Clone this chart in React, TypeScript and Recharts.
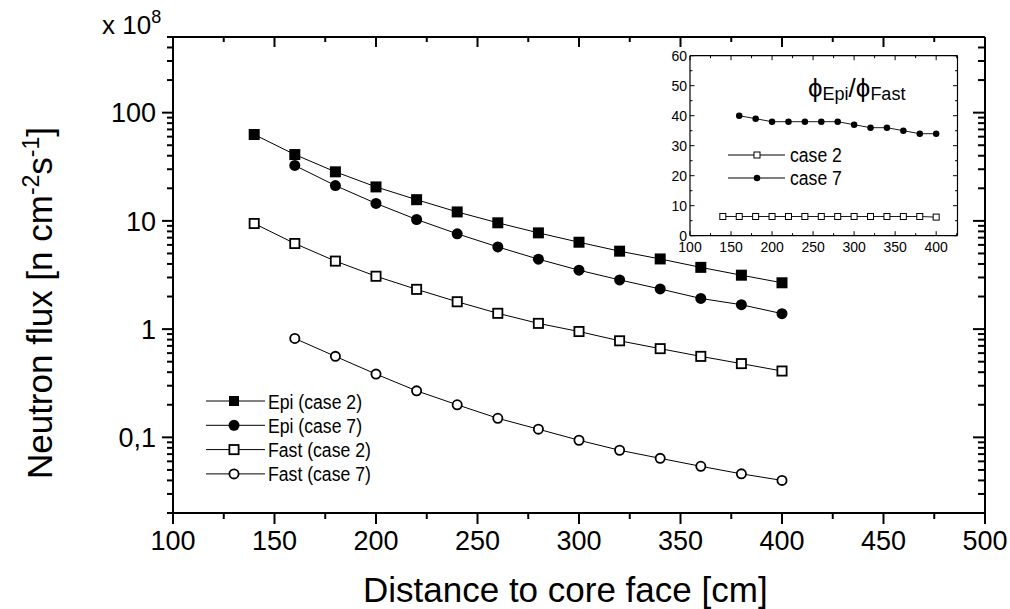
import React from 'react';
import { LineChart, Line, XAxis, YAxis, Legend } from 'recharts';

const FONT = '"Liberation Sans", Arial, Helvetica, sans-serif';

// distance to core face [cm]
const distance = [140, 160, 180, 200, 220, 240, 260, 280, 300, 320, 340, 360, 380, 400];

// neutron flux, x 10^8 n cm-2 s-1
const epiCase2 = [62.8, 41.0, 28.4, 20.6, 15.7, 12.1, 9.6, 7.75, 6.35, 5.25, 4.45, 3.72, 3.15, 2.68];
const epiCase7 = [null, 32.5, 21.2, 14.5, 10.3, 7.6, 5.75, 4.43, 3.5, 2.85, 2.35, 1.92, 1.68, 1.39];
const fastCase2 = [9.46, 6.18, 4.25, 3.08, 2.33, 1.79, 1.4, 1.13, 0.95, 0.78, 0.66, 0.56, 0.48, 0.41];
const fastCase7 = [null, 0.82, 0.56, 0.384, 0.269, 0.2, 0.15, 0.119, 0.094, 0.076, 0.064, 0.054, 0.046, 0.04];

// inset: epi / fast ratio
const ratioCase2 = [6.4, 6.4, 6.4, 6.4, 6.4, 6.4, 6.4, 6.4, 6.4, 6.4, 6.4, 6.4, 6.4, 6.2];
const ratioCase7 = [null, 40, 39, 38, 38, 38, 38, 38, 37, 36, 36, 35, 34, 34];

const xTicks = [100, 125, 150, 175, 200, 225, 250, 275, 300, 325, 350, 375, 400, 425, 450, 475, 500];
const fluxTicks = [
  0.02, 0.03, 0.04, 0.05, 0.06, 0.07, 0.08, 0.09,
  0.1, 0.2, 0.3, 0.4, 0.5, 0.6, 0.7, 0.8, 0.9,
  1, 2, 3, 4, 5, 6, 7, 8, 9,
  10, 20, 30, 40, 50, 60, 70, 80, 90,
  100, 200, 300, 400, 500,
];
const fluxTickLabels: [number, string][] = [[0.1, '0,1'], [1, '1'], [10, '10'], [100, '100']];

const insetXTicks = [100, 125, 150, 175, 200, 225, 250, 275, 300, 325, 350, 375, 400, 425];
const insetYTicks = [0, 5, 10, 15, 20, 25, 30, 35, 40, 45, 50, 55, 60];

const mainSeries = [
  { key: 'epi2', name: 'Epi (case 2)', shape: 'square', filled: true },
  { key: 'epi7', name: 'Epi (case 7)', shape: 'circle', filled: true },
  { key: 'fast2', name: 'Fast (case 2)', shape: 'square', filled: false },
  { key: 'fast7', name: 'Fast (case 7)', shape: 'circle', filled: false },
];
const insetSeries = [
  { key: 'r2', name: 'case 2', shape: 'square', filled: false },
  { key: 'r7', name: 'case 7', shape: 'circle', filled: true },
];

const rows = distance.map((d, i) => ({
  d,
  epi2: epiCase2[i],
  epi7: epiCase7[i],
  fast2: fastCase2[i],
  fast7: fastCase7[i],
}));
const insetRows = distance.map((d, i) => ({ d, r2: ratioCase2[i], r7: ratioCase7[i] }));

const Marker = ({ cx, cy, shape, filled, size, sw }: any) => {
  if (shape === 'square') {
    const s = filled ? size : size - sw;
    return (
      <rect x={cx - s / 2} y={cy - s / 2} width={s} height={s}
        fill={filled ? '#000' : '#fff'} stroke={filled ? 'none' : '#000'} strokeWidth={sw} />
    );
  }
  const r = filled ? size / 2 : (size - sw) / 2;
  return <circle cx={cx} cy={cy} r={r} fill={filled ? '#000' : '#fff'} stroke={filled ? 'none' : '#000'} strokeWidth={sw} />;
};

const dotFor = (s: any, size: number, sw: number) => (p: any) => {
  if (p.value == null || p.cy == null || isNaN(p.cy)) return <g key={p.index} />;
  return <g key={p.index}><Marker cx={p.cx} cy={p.cy} shape={s.shape} filled={s.filled} size={size} sw={sw} /></g>;
};

const fluxLabel = (v: number) => {
  const hit = fluxTickLabels.find(([t]) => Math.abs(t - v) / t < 1e-6);
  return hit ? hit[1] : null;
};

const seg = (x1: number, y1: number, x2: number, y2: number, w: number) => (
  <path d={`M${x1},${y1}L${x2},${y2}`} stroke="#000" strokeWidth={w} fill="none" />
);

// tickSize 0 / tickMargin 0: x, y handed to the tick are on the axis line
const BottomTick = ({ x, y, payload }: any) => {
  const ax = Number(x), ay = Number(y);
  const major = payload.value % 50 === 0;
  return (
    <g>
      {seg(ax, ay, ax, ay + (major ? 11 : 6), 2)}
      {major && (
        <text x={ax} y={ay + 37} textAnchor="middle" fontSize={27} fontFamily={FONT} fill="#000">{payload.value}</text>
      )}
    </g>
  );
};
const TopTick = ({ x, y, payload }: any) => {
  const ax = Number(x), ay = Number(y);
  const major = payload.value % 50 === 0;
  return <g>{seg(ax, ay, ax, ay + (major ? 10 : 5), 2)}</g>;
};
const LeftTick = ({ x, y, payload }: any) => {
  const ax = Number(x), ay = Number(y);
  const label = fluxLabel(payload.value);
  return (
    <g>
      {seg(ax - (label ? 11 : 6), ay, ax, ay, 2)}
      {label && (
        <text x={ax - 17} y={ay} dy="0.36em" textAnchor="end" fontSize={27} fontFamily={FONT} fill="#000">{label}</text>
      )}
    </g>
  );
};
const RightTick = ({ x, y, payload }: any) => {
  const ax = Number(x), ay = Number(y);
  const label = fluxLabel(payload.value);
  return <g>{seg(ax - (label ? 12 : 7), ay, ax, ay, 2)}</g>;
};

// inset ticks, all pointing inward
const InsetBottomTick = ({ x, y, payload }: any) => {
  const ax = Number(x), ay = Number(y);
  const major = payload.value % 50 === 0;
  return (
    <g>
      {seg(ax, ay, ax, ay - (major ? 4.5 : 2.5), 1)}
      {major && (
        <text x={ax} y={ay + 16} textAnchor="middle" fontSize={14} fontFamily={FONT} fill="#000">{payload.value}</text>
      )}
    </g>
  );
};
const InsetTopTick = ({ x, y, payload }: any) => {
  const ax = Number(x), ay = Number(y);
  const major = payload.value % 50 === 0;
  return <g>{seg(ax, ay, ax, ay + (major ? 4.5 : 2.5), 1)}</g>;
};
const InsetLeftTick = ({ x, y, payload }: any) => {
  const ax = Number(x), ay = Number(y);
  const major = payload.value % 10 === 0;
  return (
    <g>
      {seg(ax, ay, ax + (major ? 4.5 : 2.5), ay, 1)}
      {major && (
        <text x={ax - 3} y={ay} dy="0.36em" textAnchor="end" fontSize={14} fontFamily={FONT} fill="#000">{payload.value}</text>
      )}
    </g>
  );
};
const InsetRightTick = ({ x, y, payload }: any) => {
  const ax = Number(x), ay = Number(y);
  const major = payload.value % 10 === 0;
  return <g>{seg(ax - (major ? 4.5 : 2.5), ay, ax, ay, 1)}</g>;
};

// titles
const XTitle = () => (
  <text x={363} y={602} fontSize={35} fontFamily={FONT} fill="#000">Distance to core face [cm]</text>
);
const YTitle = () => (
  <g>
    <text transform="rotate(-90 52 303)" x={52} y={303} textAnchor="middle" fontSize={35} fontFamily={FONT} fill="#000">
      Neutron flux [n cm<tspan dy={-13} fontSize={23}>-2</tspan>
      <tspan dy={13}>s</tspan>
      <tspan dy={-13} fontSize={23}>-1</tspan>
      <tspan dy={13}>]</tspan>
    </text>
    <text x={102} y={34} fontSize={26} fontFamily={FONT} fill="#000">
      x 10<tspan dy={-11} fontSize={18}>8</tspan>
    </text>
  </g>
);
const InsetTitle = () => (
  <text x={168} y={57} fontFamily={FONT} fill="#000">
    <tspan fontSize={26}>ϕ</tspan>
    <tspan fontSize={18} dy={3}>Epi</tspan>
    <tspan fontSize={26} dy={-3}>/</tspan>
    <tspan fontSize={26}>ϕ</tspan>
    <tspan fontSize={18} dy={3}>Fast</tspan>
  </text>
);

const MainLegend = (props: any) => {
  const items = props.payload ?? [];
  return (
    <svg width={220} height={110} style={{ display: 'block' }}>
      {items.map((it: any, i: number) => {
        const s = mainSeries.find((m) => m.key === it.dataKey) ?? mainSeries[i];
        const cy = 15 + i * 24.3;
        return (
          <g key={s.key}>
            <line x1={10} x2={69} y1={cy} y2={cy} stroke="#000" strokeWidth={1} />
            <Marker cx={38} cy={cy} shape={s.shape} filled={s.filled} size={s.shape === 'square' && s.filled ? 10 : 11} sw={1.8} />
            <g transform={`translate(72 ${cy + 7.5}) scale(0.84 1)`}>
              <text x={0} y={0} fontSize={21} fontFamily={FONT} fill="#000">{it.value}</text>
            </g>
          </g>
        );
      })}
    </svg>
  );
};

const InsetLegend = (props: any) => {
  const items = props.payload ?? [];
  return (
    <svg width={140} height={55} style={{ display: 'block' }}>
      {items.map((it: any, i: number) => {
        const s = insetSeries.find((m) => m.key === it.dataKey) ?? insetSeries[i];
        const cy = 15 + i * 23;
        return (
          <g key={s.key}>
            <line x1={8} x2={65} y1={cy} y2={cy} stroke="#000" strokeWidth={1} />
            <Marker cx={37} cy={cy} shape={s.shape} filled={s.filled} size={s.filled ? 6.5 : 7} sw={1} />
            <g transform={`translate(70 ${cy + 7}) scale(0.84 1)`}>
              <text x={0} y={0} fontSize={21} fontFamily={FONT} fill="#000">{it.value}</text>
            </g>
          </g>
        );
      })}
    </svg>
  );
};

const axisCommon = { interval: 0 as const, allowDataOverflow: true, tickSize: 0, tickMargin: 0, tickLine: false };

export default function App() {
  return (
    <div style={{ position: 'absolute', left: 0, top: 0, width: 1010, height: 609, background: '#fff' }}>
      <div style={{ position: 'absolute', left: 0, top: 0 }}>
        <LineChart width={1010} height={609} data={rows} margin={{ top: 36, right: 24, bottom: 0, left: 0 }}>
          <XAxis dataKey="d" type="number" domain={[100, 500]} ticks={xTicks} {...axisCommon} height={96}
            axisLine={{ stroke: '#000', strokeWidth: 2 }} tick={(p: any) => <BottomTick {...p} />}
            label={<XTitle />} />
          <XAxis xAxisId="top" orientation="top" dataKey="d" type="number" domain={[100, 500]} ticks={xTicks}
            {...axisCommon} height={1}
            axisLine={{ stroke: '#000', strokeWidth: 2 }} tick={(p: any) => <TopTick {...p} />} />
          <YAxis type="number" scale="log" domain={[0.02, 500]} ticks={fluxTicks} {...axisCommon} width={173}
            axisLine={{ stroke: '#000', strokeWidth: 2 }} tick={(p: any) => <LeftTick {...p} />}
            label={<YTitle />} />
          <YAxis yAxisId="right" orientation="right" type="number" scale="log" domain={[0.02, 500]} ticks={fluxTicks}
            {...axisCommon} width={1}
            axisLine={{ stroke: '#000', strokeWidth: 2 }} tick={(p: any) => <RightTick {...p} />} />
          <Legend layout="vertical" align="center" verticalAlign="middle" content={MainLegend}
            wrapperStyle={{ left: 196, top: 386, width: 220, height: 110 }} />
          {mainSeries.map((s) => (
            <Line key={s.key} dataKey={s.key} name={s.name} stroke="#000" strokeWidth={1}
              dot={dotFor(s, 11, 1.8)} activeDot={false} isAnimationActive={false} />
          ))}
        </LineChart>
      </div>
      <div style={{ position: 'absolute', left: 640, top: 40 }}>
        <LineChart width={340} height={230} data={insetRows} margin={{ top: 14.7, right: 21.5, bottom: 4.3, left: 0 }}>
          <XAxis dataKey="d" type="number" domain={[100, 426]} ticks={insetXTicks} {...axisCommon} height={30}
            axisLine={{ stroke: '#000', strokeWidth: 1.2 }} tick={(p: any) => <InsetBottomTick {...p} />} />
          <XAxis xAxisId="top" orientation="top" dataKey="d" type="number" domain={[100, 426]} ticks={insetXTicks}
            {...axisCommon} height={1}
            axisLine={{ stroke: '#000', strokeWidth: 1.2 }} tick={(p: any) => <InsetTopTick {...p} />}
            label={<InsetTitle />} />
          <YAxis type="number" domain={[0, 60]} ticks={insetYTicks} {...axisCommon} width={50}
            axisLine={{ stroke: '#000', strokeWidth: 1.2 }} tick={(p: any) => <InsetLeftTick {...p} />} />
          <YAxis yAxisId="right" orientation="right" type="number" domain={[0, 60]} ticks={insetYTicks}
            {...axisCommon} width={1}
            axisLine={{ stroke: '#000', strokeWidth: 1.2 }} tick={(p: any) => <InsetRightTick {...p} />} />
          <Legend layout="vertical" align="center" verticalAlign="middle" content={InsetLegend}
            wrapperStyle={{ left: 80, top: 100, width: 140, height: 55 }} />
          {insetSeries.map((s) => (
            <Line key={s.key} dataKey={s.key} name={s.name} stroke="#000" strokeWidth={0.9}
              dot={dotFor(s, s.filled ? 6.5 : 7, 1)} activeDot={false} isAnimationActive={false} />
          ))}
        </LineChart>
      </div>
    </div>
  );
}
